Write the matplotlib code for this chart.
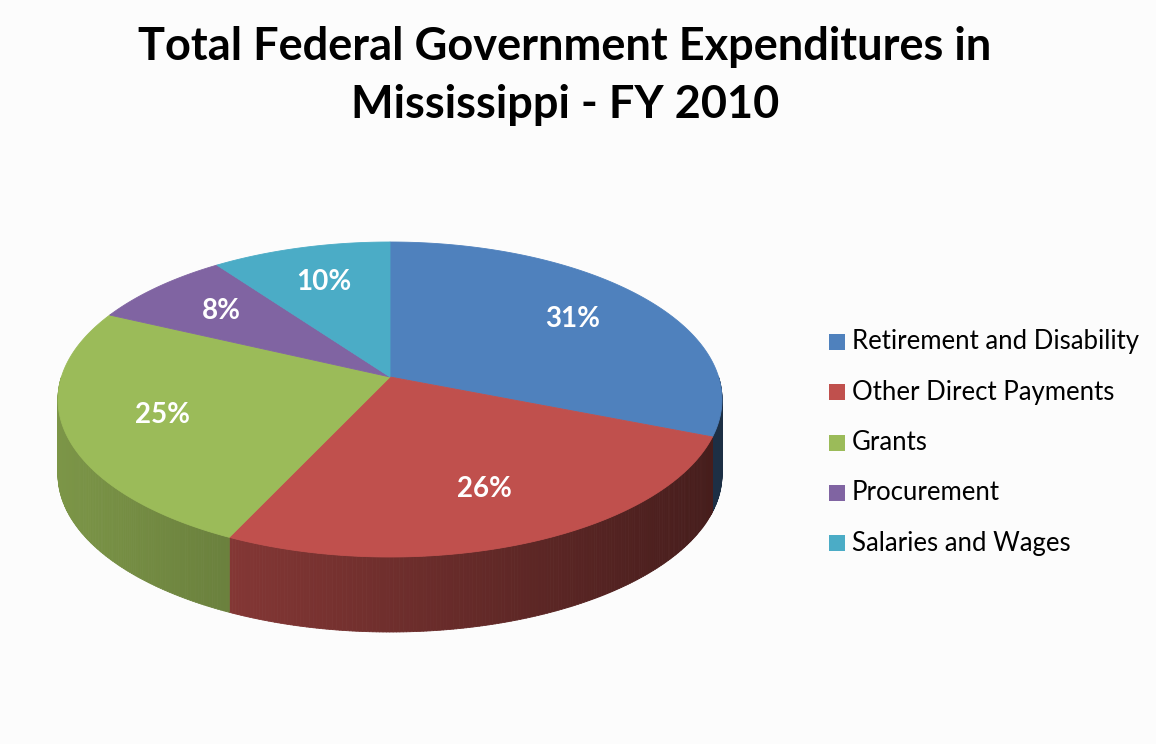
import numpy as np
import matplotlib
matplotlib.use("Agg")
import matplotlib.pyplot as plt
from matplotlib.patches import Polygon, Rectangle
from matplotlib.collections import PolyCollection
from matplotlib.colors import to_rgb

# ---- data ----
categories = ["Retirement and Disability", "Other Direct Payments", "Grants",
              "Procurement", "Salaries and Wages"]
shares = [31, 26, 25, 8, 10]
labels = ["31%", "26%", "25%", "8%", "10%"]
colors = ["#4F81BD", "#C0504D", "#9BBB59", "#8064A2", "#4BACC6"]
title_lines = ["Total Federal Government Expenditures in",
               "Mississippi - FY 2010"]

# ---- pie geometry (pixel space) ----
CX, CY = 390, 399.5     # centre of the top-face ellipse
RX, RY = 332, 157.5     # radii of the top face
DEPTH = 75              # thickness of the pie
PERSP = 0.143           # perspective shift of the centre toward the back
LABEL_R = 0.71


def project(theta, r=1.0):
    """unit-circle angle (deg, ccw, 0 = right) -> screen pixel coords"""
    t = np.radians(theta)
    u = r * np.cos(t)
    v = r * np.sin(t)
    den = 1 + PERSP * v
    up = u * np.sqrt(1 - PERSP ** 2) / den
    vp = (v + PERSP) / den
    return CX + RX * up, CY - RY * vp


def shade(c, f):
    r, g, b = to_rgb(c)
    return (r * f, g * f, b * f)


fig = plt.figure(figsize=(11.56, 7.44), dpi=100)
fig.patch.set_facecolor("#FCFCFC")
ax = fig.add_axes([0, 0, 1, 1])
ax.set_xlim(0, 1156)
ax.set_ylim(744, 0)
ax.axis("off")

total = float(sum(shares))
bounds = 90 - 360 * np.concatenate([[0], np.cumsum(shares)]) / total

# side walls (front half only: angles between -180 and 0)
for i in range(len(shares)):
    a0, a1 = bounds[i + 1], bounds[i]          # a0 < a1
    for shift in (0, -360, 360):
        lo = max(a0 + shift, -180)
        hi = min(a1 + shift, 0)
        if hi <= lo:
            continue
        th = np.linspace(lo, hi, max(int((hi - lo) * 2), 2))
        polys, fcs = [], []
        for k in range(len(th) - 1):
            x0, y0 = project(th[k])
            x1, y1 = project(th[k + 1])
            polys.append([(x0, y0), (x1, y1), (x1, y1 + DEPTH), (x0, y0 + DEPTH)])
            xm = 0.5 * (x0 + x1)
            f = 0.80 - 0.44 * (xm - (CX - RX)) / (2 * RX)
            fcs.append(shade(colors[i], f))
        ax.add_collection(PolyCollection(polys, facecolors=fcs, edgecolors=fcs,
                                         linewidths=0.6, zorder=1))

# top face
for i in range(len(shares)):
    th = np.linspace(bounds[i], bounds[i + 1], 200)
    xs, ys = project(th)
    pts = [(CX, CY - RY * PERSP)] + list(zip(xs, ys))
    ax.add_patch(Polygon(pts, closed=True, facecolor=colors[i],
                         edgecolor=colors[i], linewidth=0.6, zorder=2))
    mid = 0.5 * (bounds[i] + bounds[i + 1])
    lx, ly = project(mid, LABEL_R)
    ax.text(lx, ly, labels[i], color="white", fontsize=20, fontweight="bold",
            family="Lato", ha="center", va="center", zorder=3)

# title
for j, line in enumerate(title_lines):
    ax.text(565, 60 + j * 58, line, ha="center", va="baseline", fontsize=32.5,
            fontweight="bold", family="Lato", color="black")

# legend
for i, name in enumerate(categories):
    y = 342 + i * 50.3
    ax.add_patch(Rectangle((829, y - 8), 16, 16, facecolor=colors[i],
                           edgecolor="none", zorder=3))
    ax.text(852, y, name, fontsize=18.5, family="Lato", va="center",
            ha="left", color="black")

fig.savefig("out.png", dpi=100, facecolor=fig.get_facecolor())
